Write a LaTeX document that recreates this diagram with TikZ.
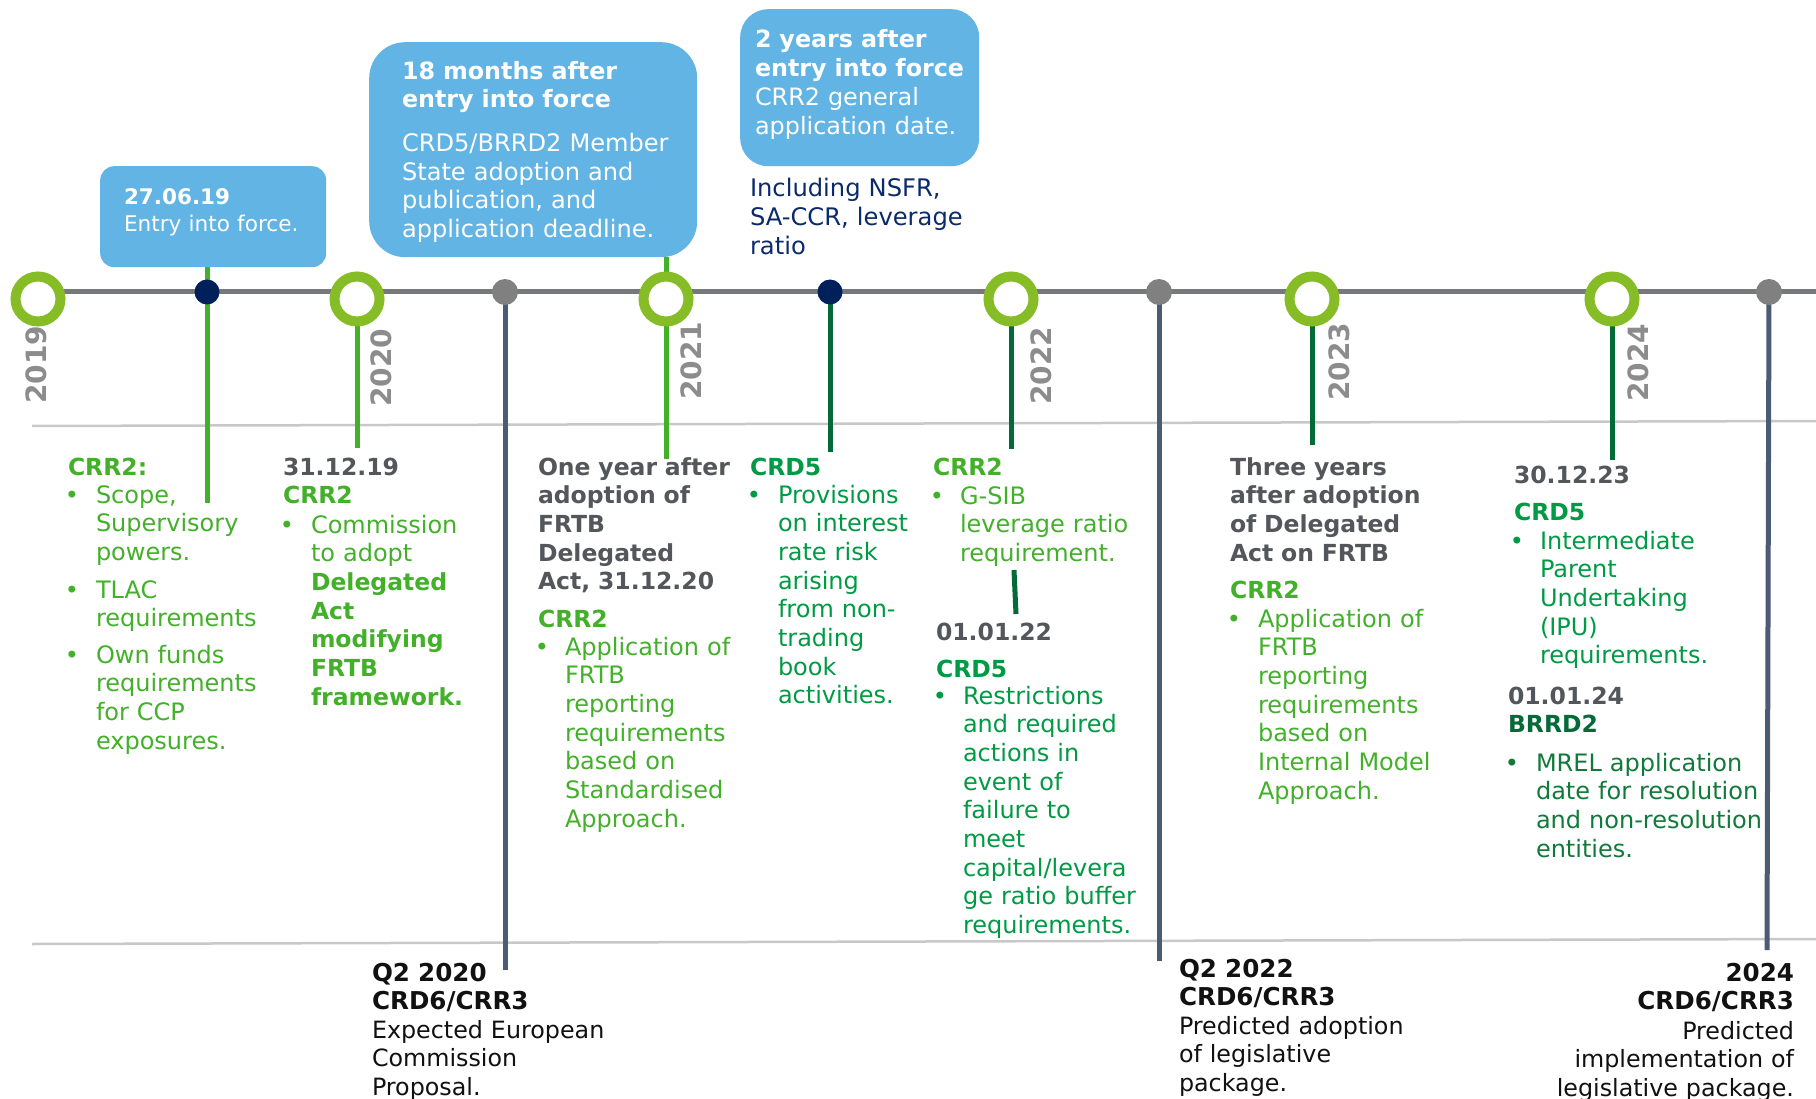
\documentclass[tikz,border=0pt]{standalone}
\usepackage{fontspec}
\setmainfont{DejaVu Sans}
\pgfdeclarelayer{bg}
\pgfsetlayers{bg,main}
\definecolor{ringgreen}{HTML}{86BC25}
\definecolor{axisgrey}{HTML}{77787B}
\definecolor{navy}{HTML}{00205B}
\definecolor{dotgrey}{HTML}{808080}
\definecolor{slate}{HTML}{4B5B73}
\definecolor{sepgrey}{HTML}{C8C8C8}
\definecolor{boxblue}{HTML}{62B4E4}
\definecolor{crrgreen}{HTML}{43B02A}
\definecolor{crdgreen}{HTML}{009A44}
\definecolor{deepgreen}{HTML}{046A38}
\definecolor{mrelgreen}{HTML}{107A3A}
\definecolor{headgrey}{HTML}{53565A}
\definecolor{yeargrey}{HTML}{8C8C8C}
\definecolor{navytext}{HTML}{0B2A6B}
\definecolor{inkblack}{HTML}{111111}
\newcommand\fntcol{\fontsize{24}{28.7}\selectfont}
\newcommand\fnthead{\fontsize{23.5}{28.7}\selectfont\bfseries}
\newcommand\fntbot{\fontsize{23.8}{28.5}\selectfont}
\newcommand\fntbotb{\fontsize{24.6}{28.5}\selectfont\bfseries}
\tikzset{
  txt/.style={anchor=base west, inner sep=0pt, outer sep=0pt, align=left, text width=330pt, font=\fntcol},
  rtxt/.style={anchor=base east, inner sep=0pt, outer sep=0pt, align=right, text width=330pt, font=\fntbot},
  bul/.style={anchor=base, inner sep=0pt, font=\fntcol},
  ring/.style={circle, draw=ringgreen, line width=10pt, fill=white, minimum size=45pt, inner sep=0pt},
  navydot/.style={circle, fill=navy, minimum size=25pt, inner sep=0pt},
  greydot/.style={circle, fill=dotgrey, minimum size=26pt, inner sep=0pt},
  year/.style={rotate=90, inner sep=0pt, font=\fontsize{28}{28}\selectfont\bfseries, text=yeargrey},
  axis/.style={draw=axisgrey, line width=5pt},
  sepline/.style={draw=sepgrey, line width=2.5pt},
  lightlink/.style={draw=crrgreen, line width=5pt},
  darklink/.style={draw=deepgreen, line width=5pt},
  slatelink/.style={draw=slate, line width=5pt},
  callout/.style={fill=boxblue, inner sep=0pt, anchor=north west},
}
\begin{document}
\begin{tikzpicture}[x=1pt,y=-1pt]
\useasboundingbox (0,0) rectangle (1816,1099);

% call-out boxes
\node[callout, rounded corners=14pt, minimum width=226pt, minimum height=101pt] (box1) at (100,166) {};
\node[callout, rounded corners=36pt, minimum width=328pt, minimum height=215pt] (box2) at (369,42) {};
\node[callout, rounded corners=28pt, minimum width=239pt, minimum height=157pt] (box3) at (740,9) {};

% timeline markers
\node[ring] (c19) at (38,299) {};
\node[navydot] (d1) at (207,292) {};
\node[ring] (c20) at (357,299) {};
\node[greydot] (g1) at (505,292) {};
\node[ring] (c21) at (666,299) {};
\node[navydot] (d2) at (830,292) {};
\node[ring] (c22) at (1011,299) {};
\node[greydot] (g2) at (1159,292) {};
\node[ring] (c23) at (1312,299) {};
\node[ring] (c24) at (1612,299) {};
\node[greydot] (g3) at (1769,292) {};

% free ends of lines
\coordinate (axisend) at (1816,292);
\coordinate (sepAl) at (32,426);
\coordinate (sepAr) at (1816,421);
\coordinate (sepBl) at (32,944);
\coordinate (sepBr) at (1816,939);
\coordinate (e1) at (207,503);
\coordinate (e2) at (357,448);
\coordinate (e3) at (666,459);
\coordinate (e4) at (830,452);
\coordinate (e5) at (1011,449);
\coordinate (e6) at (1312,445);
\coordinate (e7) at (1612,460);
\coordinate (s1) at (1014,570);
\coordinate (s2) at (1016,614);
\coordinate (f1) at (505,970);
\coordinate (f2) at (1159,961);
\coordinate (f3) at (1767,950);

\begin{pgfonlayer}{bg}
  \draw[axis] (axisend -| c19) -- (axisend);
  \draw[sepline] (sepAl) -- (sepAr);
  \draw[sepline] (sepBl) -- (sepBr);
  \draw[lightlink] (box1.south -| d1) -- (e1);
  \draw[lightlink] (c20.center) -- (e2);
  \draw[lightlink] (box2.south -| c21) -- (e3);
  \draw[darklink] (d2.center) -- (e4);
  \draw[darklink] (c22.center) -- (e5);
  \draw[darklink] (s1) -- (s2);
  \draw[darklink] (c23.center) -- (e6);
  \draw[darklink] (c24.center) -- (e7);
  \draw[slatelink] (g1.center) -- (f1);
  \draw[slatelink] (g2.center) -- (f2);
  \draw[slatelink] (g3.center) -- (f3);
\end{pgfonlayer}

% year labels
\node[year] (y19) at (36,365) {2019};
\node[year] (y20) at (381,368) {2020};
\node[year] (y21) at (691,361) {2021};
\node[year] (y22) at (1041,366) {2022};
\node[year] (y23) at (1339,362) {2023};
\node[year] (y24) at (1638,363) {2024};

% texts inside the call-outs
\node[txt, text=white, font=\fontsize{21.5}{27}\selectfont\bfseries] (t1a) at (124,205) {27.06.19};
\node[txt, text=white, font=\fontsize{21.6}{27}\selectfont] (t1b) at (124,232) {Entry into force.};
\node[txt, text=white, font=\fontsize{23.8}{28}\selectfont\bfseries] (t2a) at (402,80) {18 months after\\entry into force};
\node[txt, text=white, font=\fontsize{24.1}{28.4}\selectfont] (t2b) at (402,152) {CRD5/BRRD2 Member\\State adoption and\\publication, and\\application deadline.};
\node[txt, text=white, font=\fontsize{23.8}{29}\selectfont\bfseries] (t3a) at (755,48) {2 years after\\entry into force};
\node[txt, text=white, font=\fontsize{23.9}{29}\selectfont] (t3b) at (755,106) {CRR2 general\\application date.};
\node[txt, text=navytext, font=\fontsize{24.2}{29}\selectfont] (t3c) at (750,197) {Including NSFR,\\SA-CCR, leverage\\ratio};

% column: CRR2 scope
\node[txt, text=crrgreen, font=\fnthead] (a0) at (68,475) {CRR2:};
\node[bul, text=crrgreen] (a1b) at (72,503) {•};
\node[txt, text=crrgreen] (a1) at (96,503) {Scope,\\Supervisory\\powers.};
\node[bul, text=crrgreen] (a2b) at (72,598) {•};
\node[txt, text=crrgreen] (a2) at (96,598) {TLAC\\requirements};
\node[bul, text=crrgreen] (a3b) at (72,663) {•};
\node[txt, text=crrgreen] (a3) at (96,663) {Own funds\\requirements\\for CCP\\exposures.};

% column: 31.12.19
\node[txt, text=headgrey, font=\fnthead] (b0) at (283,475) {31.12.19};
\node[txt, text=crrgreen, font=\fnthead] (b1) at (283,503) {CRR2};
\node[bul, text=crrgreen] (b2b) at (287,533) {•};
\node[txt, text=crrgreen] (b2) at (311,533) {Commission\\to adopt\\{\fnthead Delegated}\\{\fnthead Act}\\{\fnthead modifying}\\{\fnthead FRTB}\\{\fnthead framework.}};

% column: one year after adoption
\node[txt, text=headgrey, font=\fnthead] (c0) at (538,475) {One year after\\adoption of\\FRTB\\Delegated\\Act, 31.12.20};
\node[txt, text=crrgreen, font=\fnthead] (c1) at (538,627) {CRR2};
\node[bul, text=crrgreen] (c2b) at (542,655) {•};
\node[txt, text=crrgreen] (c2) at (565,655) {Application of\\FRTB\\reporting\\requirements\\based on\\Standardised\\Approach.};

% column: CRD5 interest rate risk
\node[txt, text=crdgreen, font=\fnthead] (dd0) at (750,475) {CRD5};
\node[bul, text=crdgreen] (dd1b) at (754,503) {•};
\node[txt, text=crdgreen] (dd1) at (778,503) {Provisions\\on interest\\rate risk\\arising\\from non-\\trading\\book\\activities.};

% column: 2022
\node[txt, text=crrgreen, font=\fnthead] (ee0) at (933,475) {CRR2};
\node[bul, text=crrgreen] (ee1b) at (937,504) {•};
\node[txt, text=crrgreen] (ee1) at (960,504) {G-SIB\\leverage ratio\\requirement.};
\node[txt, text=headgrey, font=\fnthead] (ee2) at (936,640) {01.01.22};
\node[txt, text=crdgreen, font=\fnthead] (ee3) at (936,677) {CRD5};
\node[bul, text=crdgreen] (ee4b) at (940,704) {•};
\node[txt, text=crdgreen] (ee4) at (963,704) {Restrictions\\and required\\actions in\\event of\\failure to\\meet\\capital/levera\\ge ratio buffer\\requirements.};

% column: three years after
\node[txt, text=headgrey, font=\fnthead] (ff0) at (1230,475) {Three years\\after adoption\\of Delegated\\Act on FRTB};
\node[txt, text=crrgreen, font=\fnthead] (ff1) at (1230,598) {CRR2};
\node[bul, text=crrgreen] (ff2b) at (1234,627) {•};
\node[txt, text=crrgreen] (ff2) at (1258,627) {Application of\\FRTB\\reporting\\requirements\\based on\\Internal Model\\Approach.};

% column: 2024
\node[txt, text=headgrey, font=\fnthead] (gg0) at (1514,483) {30.12.23};
\node[txt, text=crdgreen, font=\fnthead] (gg1) at (1514,520) {CRD5};
\node[bul, text=crdgreen] (gg2b) at (1517,549) {•};
\node[txt, text=crdgreen] (gg2) at (1540,549) {Intermediate\\Parent\\Undertaking\\(IPU)\\requirements.};
\node[txt, text=headgrey, font=\fnthead] (gg3) at (1508,704) {01.01.24};
\node[txt, text=deepgreen, font=\fnthead] (gg4) at (1508,732) {BRRD2};
\node[bul, text=mrelgreen] (gg5b) at (1512,771) {•};
\node[txt, text=mrelgreen] (gg5) at (1536,771) {MREL application\\date for resolution\\and non-resolution\\entities.};

% CRD6/CRR3 milestones
\node[txt, text=inkblack, font=\fntbotb] (h1a) at (372,981) {Q2 2020\\CRD6/CRR3};
\node[txt, text=inkblack, font=\fntbot] (h1b) at (372,1038) {Expected European\\Commission\\Proposal.};
\node[txt, text=inkblack, font=\fntbotb] (h2a) at (1179,977) {Q2 2022\\CRD6/CRR3};
\node[txt, text=inkblack, font=\fntbot] (h2b) at (1179,1034) {Predicted adoption\\of legislative\\package.};
\node[rtxt, text=inkblack, font=\fntbotb] (h3a) at (1794,981) {2024\\CRD6/CRR3};
\node[rtxt, text=inkblack, font=\fntbot] (h3b) at (1794,1039) {Predicted\\implementation of\\legislative package.};
\end{tikzpicture}
\end{document}
